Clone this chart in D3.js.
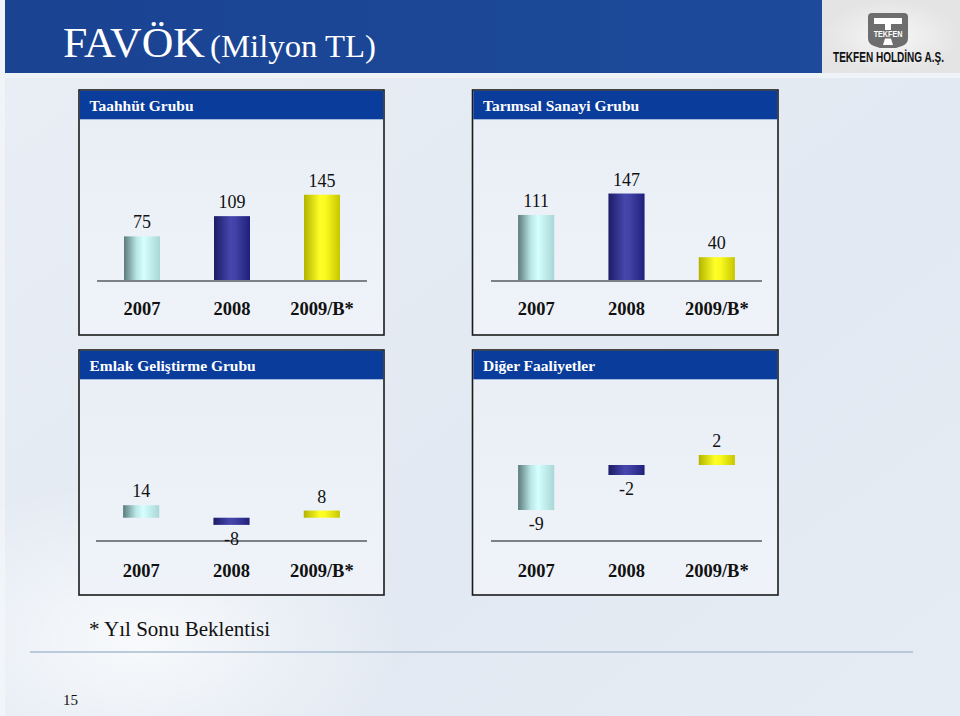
<!DOCTYPE html>
<html>
<head>
<meta charset="utf-8">
<script src="https://cdn.jsdelivr.net/npm/d3@7/dist/d3.min.js"></script>
<style>
  html, body { margin: 0; padding: 0; background: #e4ebf3; }
  svg { display: block; }
</style>
</head>
<body>
<svg id="chart" width="960" height="716"></svg>
<script>
// ---------- DATA ----------
const categories = ["2007", "2008", "2009/B*"];
const panelTitles = ["Taahhüt Grubu", "Tarımsal Sanayi Grubu", "Emlak Geliştirme Grubu", "Diğer Faaliyetler"];
const taahhutValues = [75, 109, 145];
const tarimsalValues = [111, 147, 40];
const emlakValues = [14, -8, 8];
const digerValues = [-9, -2, 2];
const pageTitle = "FAVÖK";
const pageSubtitle = "(Milyon TL)";
const footnote = "* Yıl Sonu Beklentisi";
const pageNumber = "15";

// ---------- LAYOUT ----------
const svg = d3.select("#chart");
const W = 960, H = 716;
const defs = svg.append("defs");

const bg = defs.append("linearGradient").attr("id", "bg").attr("x1", 0).attr("y1", 0).attr("x2", 1).attr("y2", 1);
bg.append("stop").attr("offset", "0%").attr("stop-color", "#e9eef5");
bg.append("stop").attr("offset", "60%").attr("stop-color", "#e2e9f2");
bg.append("stop").attr("offset", "100%").attr("stop-color", "#e6ecf4");
const glow = defs.append("radialGradient").attr("id", "glow");
glow.append("stop").attr("offset", "0%").attr("stop-color", "#ffffff").attr("stop-opacity", 0.75);
glow.append("stop").attr("offset", "100%").attr("stop-color", "#ffffff").attr("stop-opacity", 0);
const panelFill = defs.append("linearGradient").attr("id", "panelFill").attr("x1", 0).attr("y1", 0).attr("x2", 0).attr("y2", 1);
panelFill.append("stop").attr("offset", "0%").attr("stop-color", "#e9eef6");
panelFill.append("stop").attr("offset", "100%").attr("stop-color", "#eff3f9");
const headGrad = defs.append("linearGradient").attr("id", "headGrad").attr("x1", 0).attr("y1", 0).attr("x2", 1).attr("y2", 0);
headGrad.append("stop").attr("offset", "0%").attr("stop-color", "#1a4392");
headGrad.append("stop").attr("offset", "100%").attr("stop-color", "#1d4a9b");
const logoGrad = defs.append("radialGradient").attr("id", "logoGrad");
logoGrad.append("stop").attr("offset", "0%").attr("stop-color", "#f6f6f6");
logoGrad.append("stop").attr("offset", "100%").attr("stop-color", "#e4e4e4");

const barStops = [
  [["0%", "#5b7a7b"], ["35%", "#b9e6e6"], ["55%", "#d6ffff"], ["100%", "#a9d6d6"]],
  [["0%", "#1c1c66"], ["45%", "#4646ad"], ["60%", "#4141a6"], ["100%", "#20207a"]],
  [["0%", "#b3b300"], ["45%", "#ffff28"], ["60%", "#fafa20"], ["100%", "#c6c600"]]
];
barStops.forEach((stops, i) => {
  const g = defs.append("linearGradient").attr("id", "bar" + i).attr("x1", 0).attr("y1", 0).attr("x2", 1).attr("y2", 0);
  stops.forEach(s => g.append("stop").attr("offset", s[0]).attr("stop-color", s[1]));
});

svg.append("rect").attr("width", W).attr("height", H).attr("fill", "url(#bg)");
svg.append("ellipse").attr("cx", 140).attr("cy", 640).attr("rx", 260).attr("ry", 160).attr("fill", "url(#glow)");
svg.append("rect").attr("x", 0).attr("y", 0).attr("width", 5).attr("height", H).attr("fill", "#f3f6fa").attr("opacity", 0.7);

// header
svg.append("rect").attr("x", 0).attr("y", 73).attr("width", W).attr("height", 5).attr("fill", "#eef3f8");
svg.append("rect").attr("x", 5).attr("y", 0).attr("width", 817).attr("height", 73).attr("fill", "url(#headGrad)");
svg.append("text").attr("x", 63).attr("y", 57)
  .attr("font-family", "Liberation Serif, Times New Roman, serif").attr("font-size", 42)
  .attr("fill", "#ffffff").attr("textLength", 142).attr("lengthAdjust", "spacingAndGlyphs").text(pageTitle);
svg.append("text").attr("x", 210).attr("y", 57)
  .attr("font-family", "Liberation Serif, Times New Roman, serif").attr("font-size", 32)
  .attr("fill", "#ffffff").attr("textLength", 166).attr("lengthAdjust", "spacingAndGlyphs").text(pageSubtitle);

// logo
svg.append("rect").attr("x", 822).attr("y", 0).attr("width", 138).attr("height", 73).attr("fill", "url(#logoGrad)");
const logo = svg.append("g");
logo.append("path")
  .attr("d", "M872,13 L904,13 Q908,13 908,17 L908,38 Q908,44 902,46 L896,48 L880,48 L874,46 Q868,44 868,38 L868,17 Q868,13 872,13 Z")
  .attr("fill", "#6e6e6e");
logo.append("path").attr("d", "M874,18 L902,18 L902,24 L891,24 L891,30 L885,30 L885,24 L874,24 Z").attr("fill", "#ffffff");
logo.append("text").attr("transform", "translate(888,36.5) scale(0.8,1)").attr("text-anchor", "middle")
  .attr("font-family", "Liberation Sans, Arial, sans-serif").attr("font-weight", "bold")
  .attr("font-size", 9).attr("fill", "#ffffff").text("TEKFEN");
logo.append("path").attr("d", "M885,38.5 L891,38.5 L893,45 L883,45 Z").attr("fill", "#ffffff");
const logoText = logo.append("text").attr("transform", "translate(833,61.5) scale(0.74,1)")
  .attr("font-family", "Liberation Sans, Arial, sans-serif").attr("font-weight", "bold")
  .attr("font-size", 14).attr("fill", "#111111")
  .text("TEKFEN HOLDİNG A.Ş.");
// fit logo text to 111px wide
const ltw = logoText.node().getComputedTextLength();
if (ltw > 0) logoText.attr("transform", `translate(833,61.5) scale(${111 / ltw},1)`);

// ---------- PANELS ----------
const serif = "Liberation Serif, Times New Roman, serif";
const panels = [
  { title: panelTitles[0], values: taahhutValues, x0: 79, x1: 384, y0: 90, y1: 335, ax0: 97, ax1: 367, axisY: 281, domain: [0, 150], topY: 191.75, catY: 315 },
  { title: panelTitles[1], values: tarimsalValues, x0: 472.5, x1: 778, y0: 90, y1: 335, ax0: 491, ax1: 762, axisY: 281, domain: [0, 150], topY: 191.75, catY: 315 },
  { title: panelTitles[2], values: emlakValues, x0: 79, x1: 384, y0: 350, y1: 595, ax0: 96, ax1: 367, axisY: 541, domain: [-26, 14], topY: 505.2, catY: 577 },
  { title: panelTitles[3], values: digerValues, x0: 472.5, x1: 778, y0: 350, y1: 595, ax0: 491, ax1: 762, axisY: 541, domain: [-15.2, 2], topY: 455, catY: 577 }
];

panels.forEach(p => {
  const g = svg.append("g");
  g.append("rect").attr("x", p.x0).attr("y", p.y0).attr("width", p.x1 - p.x0).attr("height", p.y1 - p.y0)
    .attr("fill", "url(#panelFill)").attr("stroke", "#1b1b1b").attr("stroke-width", 1.6);
  g.append("rect").attr("x", p.x0 + 0.8).attr("y", p.y0 + 0.8).attr("width", p.x1 - p.x0 - 1.6).attr("height", 28.5)
    .attr("fill", "#0a3c9b");
  g.append("text").attr("x", p.x0 + 10.5).attr("y", p.y0 + 20.5)
    .attr("font-family", serif).attr("font-weight", "bold").attr("font-size", 15.5).attr("fill", "#ffffff")
    .text(p.title);

  const x = d3.scaleBand().domain(categories).range([p.ax0, p.ax1]).paddingInner(0.6).paddingOuter(0.3);
  const y = d3.scaleLinear().domain(p.domain).range([p.axisY, p.topY]);
  const data = categories.map((c, i) => ({ c, v: p.values[i], i }));

  g.selectAll("rect.bar").data(data).enter().append("rect").attr("class", "bar")
    .attr("x", d => x(d.c))
    .attr("width", x.bandwidth())
    .attr("y", d => Math.min(y(d.v), y(0)))
    .attr("height", d => Math.abs(y(d.v) - y(0)))
    .attr("fill", d => `url(#bar${d.i})`);

  g.append("line").attr("x1", p.ax0).attr("x2", p.ax1).attr("y1", p.axisY).attr("y2", p.axisY)
    .attr("stroke", "#7d8286").attr("stroke-width", 2.2);

  g.selectAll("text.val").data(data).enter().append("text").attr("class", "val")
    .attr("x", d => x(d.c) + x.bandwidth() / 2)
    .attr("y", d => d.v >= 0 ? y(d.v) - 8 : y(d.v) + 20)
    .attr("text-anchor", "middle").attr("font-family", serif).attr("font-size", 18).attr("fill", "#111")
    .text(d => d.v);

  g.selectAll("text.cat").data(data).enter().append("text").attr("class", "cat")
    .attr("x", d => x(d.c) + x.bandwidth() / 2)
    .attr("y", p.catY)
    .attr("text-anchor", "middle").attr("font-family", serif).attr("font-weight", "bold").attr("font-size", 18.5).attr("fill", "#111")
    .text(d => d.c);
});

// footnote, separator, page number
svg.append("text").attr("x", 89).attr("y", 636).attr("font-family", serif).attr("font-size", 21).attr("fill", "#111")
  .attr("textLength", 181).attr("lengthAdjust", "spacingAndGlyphs").text(footnote);
svg.append("line").attr("x1", 30).attr("x2", 913).attr("y1", 652).attr("y2", 652)
  .attr("stroke", "#a9bccf").attr("stroke-width", 1.5);
svg.append("text").attr("x", 63).attr("y", 705).attr("font-family", serif).attr("font-size", 15).attr("fill", "#111")
  .text(pageNumber);
</script>
</body>
</html>
